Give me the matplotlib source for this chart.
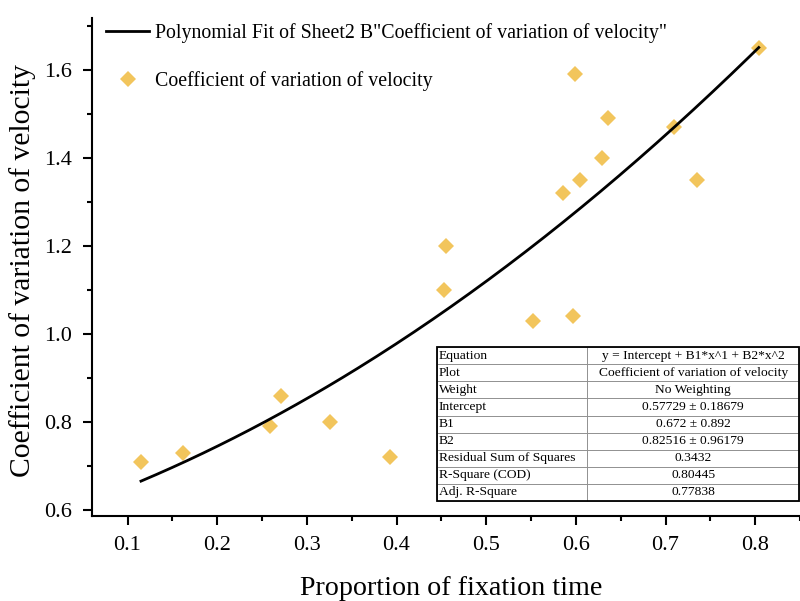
import numpy as np
import matplotlib
matplotlib.use("Agg")
import matplotlib.pyplot as plt
import matplotlib.patches as mpatches
from matplotlib.ticker import MultipleLocator

plt.rcParams['font.family'] = ['Liberation Serif', 'DejaVu Serif']

# Data
prop_fixation = [0.115, 0.162, 0.259, 0.271, 0.326, 0.393, 0.453, 0.455, 0.552, 0.586,
                 0.597, 0.599, 0.605, 0.629, 0.636, 0.709, 0.735, 0.804]
cv_velocity = [0.71, 0.73, 0.79, 0.86, 0.80, 0.72, 1.10, 1.20, 1.03, 1.32,
               1.04, 1.59, 1.35, 1.40, 1.49, 1.47, 1.35, 1.65]
fit_coefs = [0.57729, 0.672, 0.82516]  # Intercept, B1, B2

table_labels = ["Equation", "Plot", "Weight", "Intercept", "B1", "B2",
                "Residual Sum of Squares", "R-Square (COD)", "Adj. R-Square"]
table_values = ["y = Intercept + B1*x^1 + B2*x^2", "Coefficient of variation of velocity",
                "No Weighting", "0.57729 \u00b1 0.18679", "0.672 \u00b1 0.892",
                "0.82516 \u00b1 0.96179", "0.3432", "0.80445", "0.77838"]

fig = plt.figure(figsize=(8.0, 6.01), dpi=100)
ax = fig.add_axes([0.1146, 0.142, 0.8854, 0.828])

xs = np.linspace(min(prop_fixation), max(prop_fixation), 200)
ys = fit_coefs[0] + fit_coefs[1] * xs + fit_coefs[2] * xs ** 2
ax.plot(xs, ys, color='black', lw=2,
        label='Polynomial Fit of Sheet2 B"Coefficient of variation of velocity"', zorder=3)
ax.plot(prop_fixation, cv_velocity, linestyle='none', marker='D', markersize=8,
        color='#F2C55C', markeredgewidth=0, label='Coefficient of variation of velocity', zorder=2)

ax.set_xlim(0.06, 0.85)
ax.set_ylim(0.587, 1.718)
ax.xaxis.set_major_locator(MultipleLocator(0.1))
ax.xaxis.set_minor_locator(MultipleLocator(0.05))
ax.yaxis.set_major_locator(MultipleLocator(0.2))
ax.yaxis.set_minor_locator(MultipleLocator(0.1))
ax.spines['top'].set_visible(False)
ax.spines['right'].set_visible(False)
for s in ['left', 'bottom']:
    ax.spines[s].set_linewidth(1.5)
ax.tick_params(which='major', direction='out', length=6.5, width=1.5, labelsize=16)
ax.tick_params(axis='x', which='major', pad=8.5)
ax.tick_params(axis='y', which='major', pad=7.5)
ax.tick_params(which='minor', direction='out', length=3.6, width=1.5)
ax.set_xticklabels([f"{v:.1f}" for v in ax.get_xticks()])
ax.set_xlabel('Proportion of fixation time', fontsize=20.2)
ax.set_ylabel('Coefficient of variation of velocity', fontsize=21.3)
ax.xaxis.set_label_coords(0.507, -0.121)
ax.yaxis.set_label_coords(-0.078, 0.493)

leg = ax.legend(loc='upper left', frameon=False, fontsize=14.3, bbox_to_anchor=(0.0198, 0.989),
                handlelength=2.2, handletextpad=0.3, labelspacing=1.38, borderpad=0,
                borderaxespad=0)

tbl = ax.table(cellText=[[a, b] for a, b in zip(table_labels, table_values)],
               colWidths=[150, 212], bbox=[0.488, 0.0295, 0.511, 0.309])
tbl.auto_set_font_size(False)
tbl.set_fontsize(9.7)
for (r, c), cell in tbl.get_celld().items():
    cell.set_edgecolor('#888888')
    cell.set_linewidth(0.6)
    if c == 0:
        cell.set_text_props(ha='left')
        cell.PAD = 0.01
    else:
        cell.set_text_props(ha='center')
ax.add_patch(mpatches.Rectangle((0.488, 0.0295), 0.511, 0.309, transform=ax.transAxes,
                                fill=False, lw=1.3, edgecolor='black', zorder=10, clip_on=False))

fig.savefig('out.png', dpi=100)
